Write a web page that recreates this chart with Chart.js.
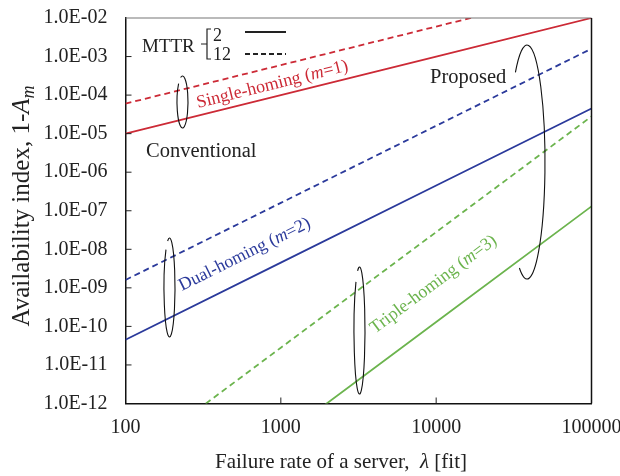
<!DOCTYPE html>
<html>
<head>
<meta charset="utf-8">
<script src="https://cdn.jsdelivr.net/npm/chart.js@4.4.0/dist/chart.umd.min.js"></script>
<style>
  html, body { margin: 0; padding: 0; background: #fff; overflow: hidden; }
</style>
</head>
<body>
<canvas id="myChart" width="620" height="476"></canvas>
<script>
// Failure rate of a server [fit]
const failureRates = [100, 1000, 10000, 100000];

// 1 - A_m (MTTR = 2 and MTTR = 12)
const single2  = [1e-5, 1e-4, 1e-3, 1e-2];
const single12 = [6e-5, 6e-4, 6e-3, 6e-2];
const dual2    = [4.5e-11, 4.5e-9, 4.5e-7, 4.5e-5];
const dual12   = [1.6e-9, 1.6e-7, 1.6e-5, 1.6e-3];
const triple2  = [1.3e-16, 1.3e-13, 1.3e-10, 1.3e-7];
const triple12 = [2.8e-14, 2.8e-11, 2.8e-8, 2.8e-5];

const xTickLabels = ['100', '1000', '10000', '100000'];
const yTickLabels = ['1.0E-12', '1.0E-11', '1.0E-10', '1.0E-09', '1.0E-08', '1.0E-07',
                     '1.0E-06', '1.0E-05', '1.0E-04', '1.0E-03', '1.0E-02'];

const RED = '#cc2a36';
const BLUE = '#2b3a9b';
const GREEN = '#6cb44e';
const SERIF = '"Liberation Serif", "Times New Roman", serif';

const toPoints = ys => failureRates.map((x, i) => ({ x: x, y: ys[i] }));

function line(data, color, dashed) {
    return {
        data: toPoints(data),
        borderColor: color,
        borderWidth: 1.8,
        borderDash: dashed ? [6, 4] : [],
        pointRadius: 0,
        fill: false,
        tension: 0
    };
}

// draw a row of text pieces with different fonts
function drawRuns(ctx, runs, x, y, align) {
    let total = 0;
    runs.forEach(r => { ctx.font = r.font; total += ctx.measureText(r.t).width; });
    let cx = align === 'center' ? x - total / 2 : x;
    runs.forEach(r => {
        ctx.font = r.font;
        ctx.fillText(r.t, cx, y + (r.dy || 0));
        cx += ctx.measureText(r.t).width;
    });
}

function openEllipse(ctx, cx, cy, rx, ry, a0, a1) {
    ctx.beginPath();
    ctx.ellipse(cx, cy, rx, ry, 0, a0 * Math.PI / 180, a1 * Math.PI / 180);
    ctx.stroke();
}

const decorations = {
    id: 'decorations',
    afterDraw(chart) {
        const ctx = chart.ctx;
        const a = chart.chartArea;
        const xs = chart.scales.x, ys = chart.scales.y;
        ctx.save();

        // top and right frame
        ctx.lineWidth = 1.2;
        ctx.strokeStyle = '#777';
        ctx.beginPath(); ctx.moveTo(a.left, a.top); ctx.lineTo(a.right, a.top); ctx.stroke();
        ctx.lineWidth = 1.5;
        ctx.strokeStyle = '#111';
        ctx.beginPath(); ctx.moveTo(a.right, a.top); ctx.lineTo(a.right, a.bottom); ctx.stroke();

        // inward tick marks
        ctx.lineWidth = 1;
        ctx.strokeStyle = '#222';
        yTickLabels.slice(1, -1).forEach(t => {
            const py = ys.getPixelForValue(Number(t));
            ctx.beginPath(); ctx.moveTo(a.left, py); ctx.lineTo(a.left + 6, py); ctx.stroke();
        });
        xTickLabels.slice(1, -1).forEach(t => {
            const px = xs.getPixelForValue(Number(t));
            ctx.beginPath(); ctx.moveTo(px, a.bottom); ctx.lineTo(px, a.bottom - 6); ctx.stroke();
        });

        ctx.fillStyle = '#222';
        ctx.textBaseline = 'alphabetic';
        ctx.textAlign = 'left';

        // axis titles
        drawRuns(ctx, [
            { t: 'Failure rate of a server,  ', font: '21px ' + SERIF },
            { t: 'λ', font: 'italic 21px ' + SERIF },
            { t: ' [fit]', font: '21px ' + SERIF }
        ], 341, 468, 'center');

        ctx.save();
        ctx.translate(29, 206);
        ctx.rotate(-Math.PI / 2);
        drawRuns(ctx, [
            { t: 'Availability index, 1-', font: '25px ' + SERIF },
            { t: 'A', font: 'italic 25px ' + SERIF },
            { t: 'm', font: 'italic 18px ' + SERIF, dy: 5 }
        ], 0, 0, 'center');
        ctx.restore();

        // MTTR key
        ctx.font = '19px ' + SERIF;
        ctx.fillText('MTTR', 142, 52);
        ctx.font = '18px ' + SERIF;
        ctx.fillText('2', 213, 41);
        ctx.fillText('12', 213, 60);
        ctx.lineWidth = 1.2;
        ctx.strokeStyle = '#222';
        ctx.beginPath();
        ctx.moveTo(211, 29); ctx.lineTo(207, 29); ctx.lineTo(207, 59); ctx.lineTo(211, 59);
        ctx.moveTo(201, 44); ctx.lineTo(207, 44);
        ctx.stroke();
        ctx.lineWidth = 1.8;
        ctx.beginPath(); ctx.moveTo(245, 32); ctx.lineTo(286, 32); ctx.stroke();
        ctx.setLineDash([5, 3]);
        ctx.beginPath(); ctx.moveTo(245, 54); ctx.lineTo(286, 54); ctx.stroke();
        ctx.setLineDash([]);

        ctx.font = '20.5px ' + SERIF;
        ctx.fillText('Conventional', 146, 157);
        ctx.fillText('Proposed', 430, 83);

        // group ellipses (left open just below the top, like hand-drawn loops)
        ctx.lineWidth = 1.1;
        ctx.strokeStyle = '#111';
        openEllipse(ctx, 182.5, 102, 5.5, 26, 250, 585);
        openEllipse(ctx, 169.5, 287.5, 5.5, 49.5, 250, 590);
        openEllipse(ctx, 359.5, 330.5, 5.5, 63.5, 250, 590);
        openEllipse(ctx, 527, 162, 18, 117, 230, 475);

        // rotated series labels, following the slope of their lines
        const slope = vals => {
            const x0 = xs.getPixelForValue(failureRates[0]), x1 = xs.getPixelForValue(failureRates[3]);
            const y0 = ys.getPixelForValue(vals[0]), y1 = ys.getPixelForValue(vals[3]);
            return Math.atan2(y1 - y0, x1 - x0);
        };
        const label = (name, m, color, x, y, ang) => {
            ctx.save();
            ctx.translate(x, y);
            ctx.rotate(ang);
            ctx.fillStyle = color;
            drawRuns(ctx, [
                { t: name + ' (', font: '18px ' + SERIF },
                { t: 'm', font: 'italic 18px ' + SERIF },
                { t: '=' + m + ')', font: '18px ' + SERIF }
            ], 0, 0, 'left');
            ctx.restore();
        };
        label('Single-homing', 1, RED, 198, 108, slope(single2));
        label('Dual-homing', 2, BLUE, 182, 291, slope(dual2));
        label('Triple-homing', 3, GREEN, 375, 334, slope(triple2));

        ctx.restore();
    }
};

const ctx = document.getElementById('myChart').getContext('2d');

const myChart = new Chart(ctx, {
    type: 'line',
    data: {
        datasets: [
            line(single2, RED, false),
            line(single12, RED, true),
            line(dual2, BLUE, false),
            line(dual12, BLUE, true),
            line(triple2, GREEN, false),
            line(triple12, GREEN, true)
        ]
    },
    options: {
        responsive: false,
        animation: false,
        devicePixelRatio: 1,
        layout: { padding: { top: 18, right: 28.5, left: 0, bottom: 0 } },
        plugins: { legend: { display: false }, tooltip: { enabled: false } },
        scales: {
            x: {
                type: 'logarithmic',
                min: 100,
                max: 100000,
                afterBuildTicks: s => { s.ticks = xTickLabels.map(t => ({ value: Number(t) })); },
                afterFit: s => { s.height = 72.5; s.paddingLeft = 0; s.paddingRight = 0; },
                ticks: {
                    callback: (v, i) => xTickLabels[i],
                    font: { family: SERIF, size: 20 },
                    color: '#222',
                    padding: 12,
                    maxRotation: 0,
                    autoSkip: false
                },
                grid: { display: false, drawTicks: false },
                border: { display: true, color: '#111', width: 1.5 }
            },
            y: {
                type: 'logarithmic',
                min: 1e-12,
                max: 1e-2,
                afterBuildTicks: s => { s.ticks = yTickLabels.map(t => ({ value: Number(t) })); },
                afterFit: s => { s.width = 125.5; s.paddingTop = 0; s.paddingBottom = 0; },
                ticks: {
                    callback: (v, i) => yTickLabels[i],
                    font: { family: SERIF, size: 20 },
                    color: '#222',
                    padding: 18,
                    autoSkip: false
                },
                grid: { display: false, drawTicks: false },
                border: { display: true, color: '#111', width: 1.5 }
            }
        }
    },
    plugins: [decorations]
});
</script>
</body>
</html>
